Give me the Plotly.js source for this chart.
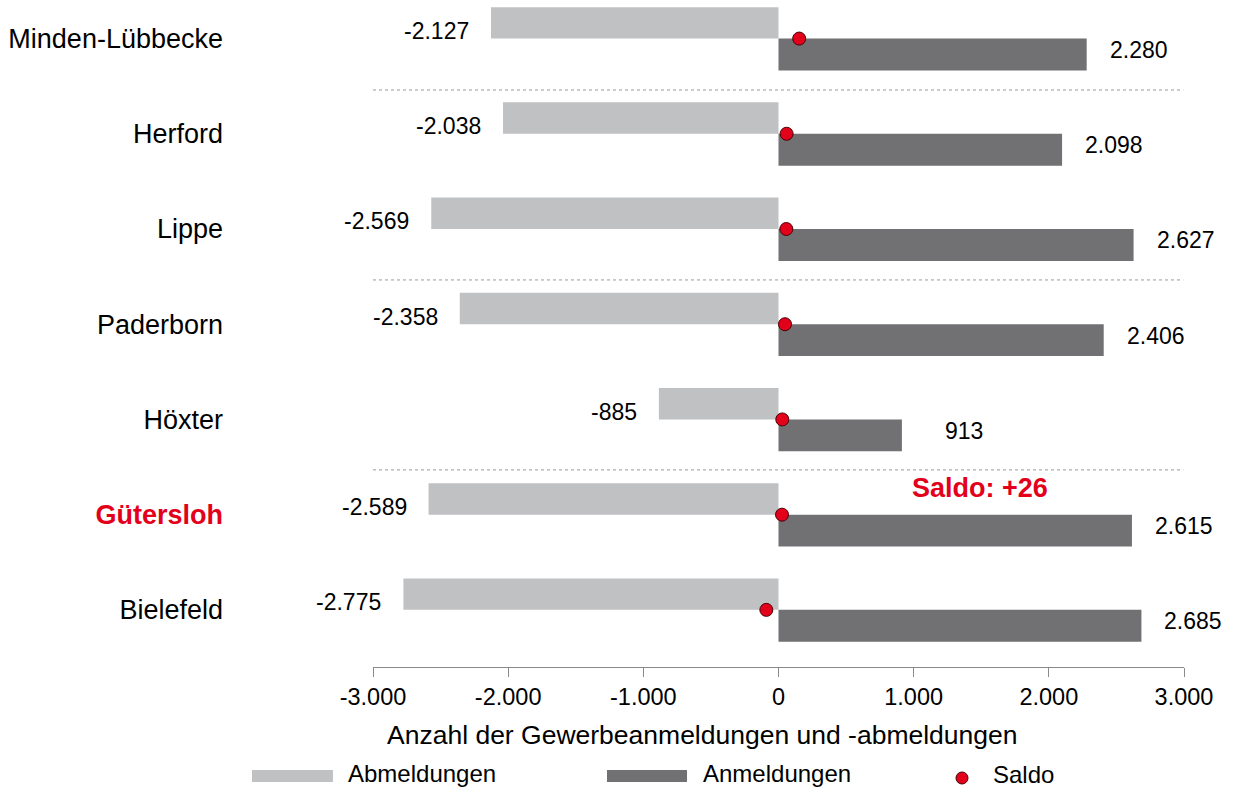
<!DOCTYPE html>
<html>
<head>
<meta charset="utf-8">
<script src="https://cdn.plot.ly/plotly-3.0.1.min.js"></script>
<style>html,body{margin:0;padding:0;background:#fff;}#chart{width:1233px;height:787px;}</style>
</head>
<body>
<div id="chart"></div>
<script>
// ---- data ----
var categories = ["Minden-Lübbecke", "Herford", "Lippe", "Paderborn", "Höxter", "Gütersloh", "Bielefeld"];
var abmeldungen = [-2127, -2038, -2569, -2358, -885, -2589, -2775];
var anmeldungen = [2280, 2098, 2627, 2406, 913, 2615, 2685];
var saldo = [153, 60, 58, 48, 28, 26, -90];
var abLabels = ["-2.127", "-2.038", "-2.569", "-2.358", "-885", "-2.589", "-2.775"];
var anLabels = ["2.280", "2.098", "2.627", "2.406", "913", "2.615", "2.685"];
var xTickVals = [-3000, -2000, -1000, 0, 1000, 2000, 3000];
var xTickText = ["-3.000", "-2.000", "-1.000", "0", "1.000", "2.000", "3.000"];
var highlight = "Gütersloh";
var saldoNote = "Saldo: +26";
var xTitle = "Anzahl der Gewerbeanmeldungen und -abmeldungen";
var legendNames = ["Abmeldungen", "Anmeldungen", "Saldo"];

// ---- styling ----
var FONT = "Liberation Sans, Arial, sans-serif";
var C_LIGHT = "#c0c1c3", C_DARK = "#717174", C_RED = "#e2001a";
var n = categories.length;
var ypos = categories.map(function(c, i){ return n - 1 - i; });
var tickText = categories.map(function(c){
  return c === highlight ? "<span style='color:" + C_RED + "'><b>" + c + "</b></span>" : c;
});

var L = 373, T = 0, W = 811, H = 667;
function px(x){ return (x - L) / W; }
function py(y){ return (T + H - y) / H; }

var traces = [
  {type: "bar", orientation: "h", name: legendNames[0], x: abmeldungen, y: ypos,
   offset: 0, width: 0.33, marker: {color: C_LIGHT, line: {width: 0}}, hoverinfo: "x", showlegend: false},
  {type: "bar", orientation: "h", name: legendNames[1], x: anmeldungen, y: ypos,
   offset: -0.335, width: 0.335, marker: {color: C_DARK, line: {width: 0}}, hoverinfo: "x", showlegend: false},
  {type: "scatter", mode: "markers", name: legendNames[2], x: saldo, y: ypos,
   marker: {color: C_RED, size: 13, line: {color: "#4a0008", width: 1}}, hoverinfo: "x", showlegend: false, cliponaxis: false}
];

var annotations = [];
for (var i = 0; i < n; i++) {
  annotations.push({x: abmeldungen[i], y: ypos[i] + 0.08, xref: "x", yref: "y", text: abLabels[i],
    showarrow: false, xanchor: "right", yanchor: "middle", xshift: -20,
    font: {family: FONT, size: 23, color: "#000"}});
  annotations.push({x: anmeldungen[i], y: ypos[i] - 0.12, xref: "x", yref: "y", text: anLabels[i],
    showarrow: false, xanchor: "right", yanchor: "middle", xshift: 83,
    font: {family: FONT, size: 23, color: "#000"}});
}
var hi = categories.indexOf(highlight);
annotations.push({x: 1490, y: ypos[hi] + 0.28, xref: "x", yref: "y", text: "<b>" + saldoNote + "</b>",
  showarrow: false, xanchor: "center", yanchor: "middle", font: {family: FONT, size: 27, color: C_RED}});
annotations.push({x: px(702), y: py(735), xref: "paper", yref: "paper", text: xTitle,
  showarrow: false, xanchor: "center", yanchor: "middle", font: {family: FONT, size: 26.5, color: "#000"}});
// legend labels
annotations.push({x: px(346), y: py(773), xref: "paper", yref: "paper", text: legendNames[0], showarrow: false,
  xanchor: "left", yanchor: "middle", font: {family: FONT, size: 24, color: "#000"}});
annotations.push({x: px(701), y: py(773), xref: "paper", yref: "paper", text: legendNames[1], showarrow: false,
  xanchor: "left", yanchor: "middle", font: {family: FONT, size: 24, color: "#000"}});
annotations.push({x: px(991), y: py(774), xref: "paper", yref: "paper", text: legendNames[2], showarrow: false,
  xanchor: "left", yanchor: "middle", font: {family: FONT, size: 24, color: "#000"}});

var sepY = [5.46, 3.465, 1.47];
var shapes = sepY.map(function(y){
  return {type: "line", xref: "x", yref: "y", x0: -3000, x1: 2995, y0: y, y1: y,
    line: {color: "#9a9a9a", width: 1, dash: "dot"}, layer: "below"};
});
shapes.push({type: "rect", xref: "paper", yref: "paper", x0: px(252), x1: px(333), y0: py(770), y1: py(782),
  fillcolor: C_LIGHT, line: {width: 0}});
shapes.push({type: "rect", xref: "paper", yref: "paper", x0: px(607), x1: px(687), y0: py(770), y1: py(782),
  fillcolor: C_DARK, line: {width: 0}});
shapes.push({type: "circle", xref: "paper", yref: "paper", x0: px(956), x1: px(968), y0: py(772), y1: py(784),
  fillcolor: C_RED, line: {color: "#4a0008", width: 1}});

var layout = {
  width: 1233, height: 787,
  margin: {l: L, r: 1233 - L - W, t: T, b: 787 - T - H, pad: 0},
  paper_bgcolor: "#fff", plot_bgcolor: "#fff",
  font: {family: FONT, color: "#000"},
  barmode: "overlay",
  showlegend: false,
  xaxis: {range: [-3000, 3000], tickvals: xTickVals, ticktext: xTickText, showgrid: false, zeroline: false,
    showline: true, linecolor: "#8a8a8a", linewidth: 1, ticks: "outside", ticklen: 9, tickcolor: "#8a8a8a",
    tickfont: {family: FONT, size: 23.5, color: "#000"}, fixedrange: true},
  yaxis: {range: [-0.6, 6.405], tickvals: ypos, ticktext: tickText, showgrid: false, zeroline: false,
    showline: false, ticks: "", ticklabelstandoff: 149,
    tickfont: {family: FONT, size: 27, color: "#000"}, fixedrange: true},
  annotations: annotations,
  shapes: shapes
};

Plotly.newPlot("chart", traces, layout, {displayModeBar: false, staticPlot: true});
</script>
</body>
</html>
